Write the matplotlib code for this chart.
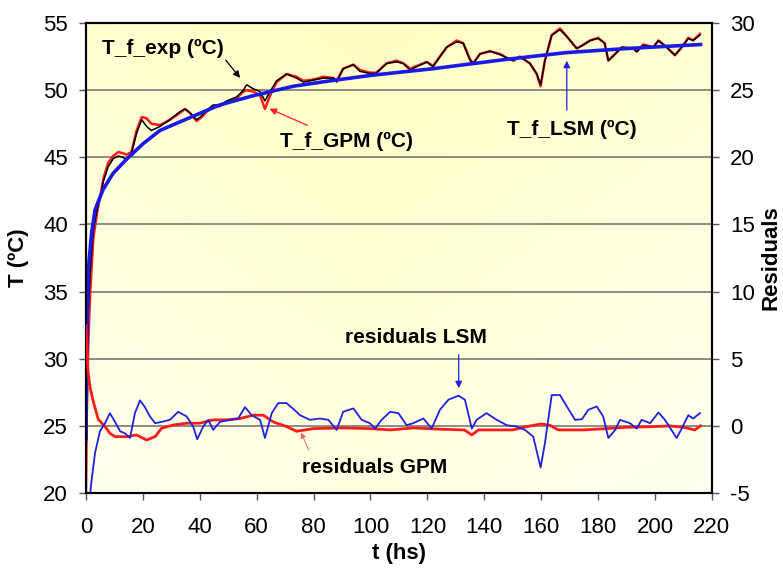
import matplotlib
matplotlib.use("Agg")
import matplotlib.pyplot as plt
import numpy as np
from matplotlib.colors import LinearSegmentedColormap

plt.rcParams['font.family'] = ['Liberation Sans', 'DejaVu Sans']
plt.rcParams['axes.unicode_minus'] = False

# ---------------- data ----------------
t_exp = [0, 0.3, 0.8, 1.5, 2.6, 4.0, 5.0, 6.1, 7.8, 9.6, 11.4, 13.0, 14.3, 16, 17.8, 19.6,
         21.3, 23, 26, 29.5, 33, 34.8, 36.6, 38.9, 40.7, 42.4, 44.7, 47, 49.5, 53, 55.3,
         56.5, 58.8, 61.2, 62.9, 64.7, 67, 70.5, 74, 76.4, 80, 83.5, 87, 88.1, 90.4, 94,
         96.3, 99.8, 102, 105.7, 109.2, 111.5, 113.9, 116.2, 119.8, 122, 124.4, 126.8,
         130.3, 132.6, 135, 136.1, 138.5, 142, 145.5, 148, 150.2, 152.5, 156, 158.4,
         159.8, 161.3, 163.7, 166.6, 169, 172.5, 174.8, 177.2, 180, 182.3, 183.6, 186,
         188.3, 192.4, 193.6, 195.9, 199.4, 201.2, 204.1, 207, 209.4, 211.7, 213.4, 215.8]
T_exp = [21.0, 29.0, 33.5, 36.5, 39.6, 41.2, 42.0, 43.2, 44.3, 44.9, 45.1, 45.0, 44.8, 45.3,
         46.8, 47.8, 47.3, 47.0, 47.3, 47.8, 48.4, 48.6, 48.3, 47.8, 48.1, 48.5, 48.9, 48.9,
         49.2, 49.5, 50.0, 50.4, 50.1, 49.9, 49.2, 49.9, 50.7, 51.2, 50.9, 50.6, 50.75,
         50.9, 50.9, 50.6, 51.6, 51.9, 51.4, 51.25, 51.25, 52.0, 52.1, 52.0, 51.5, 51.75,
         52.1, 51.75, 52.5, 53.2, 53.6, 53.5, 52.2, 52.0, 52.7, 52.9, 52.65, 52.4, 52.2,
         52.5, 52.0, 51.25, 50.4, 52.2, 54.1, 54.5, 54.0, 53.1, 53.35, 53.7, 53.85, 53.5,
         52.2, 52.7, 53.2, 53.1, 52.85, 53.35, 53.2, 53.7, 53.2, 52.6, 53.2, 53.85, 53.7, 54.1]
T_gpm = [20.0, 26.0, 31.0, 35.0, 39.0, 41.0, 42.1, 43.4, 44.6, 45.1, 45.4, 45.3, 45.2, 45.4,
         47.0, 48.0, 47.9, 47.5, 47.4, 47.8, 48.3, 48.6, 48.3, 47.7, 48.0, 48.4, 48.8, 48.8,
         49.1, 49.4, 49.9, 50.0, 49.9, 49.6, 48.6, 49.6, 50.6, 51.2, 51.0, 50.7, 50.8,
         51.0, 50.9, 50.7, 51.6, 51.9, 51.5, 51.3, 51.3, 52.0, 52.2, 52.0, 51.6, 51.8,
         52.1, 51.8, 52.5, 53.2, 53.7, 53.5, 52.3, 52.0, 52.7, 52.9, 52.7, 52.4, 52.2,
         52.5, 52.0, 51.2, 50.3, 52.2, 54.1, 54.6, 54.0, 53.1, 53.4, 53.7, 53.9, 53.5,
         52.2, 52.7, 53.2, 53.1, 52.9, 53.4, 53.2, 53.7, 53.2, 52.6, 53.2, 53.9, 53.7, 54.2]

t_lsm = [0.0, 0.2, 0.8, 2, 3.2, 6, 9.5, 14, 20, 26, 37, 47, 59, 73, 86, 100, 122, 148,
         169, 190, 216]
T_lsm = [24.0, 30.6, 36.6, 39.4, 41.1, 42.6, 43.8, 44.8, 46.0, 47.0, 48.0, 48.9, 49.6,
         50.3, 50.7, 51.1, 51.6, 52.3, 52.8, 53.1, 53.4]

t_res_lsm = [0.3, 1.4, 2, 3.2, 4.9, 6.7, 8.4, 10.2, 12, 13.7, 15.5, 17.2, 19, 20.7, 22.5,
             24.3, 26.6, 29.5, 32.4, 35.4, 37.7, 39.1, 41.2, 43, 44.7, 47.1, 50.6, 53.5,
             55.9, 58.2, 61.2, 62.9, 65.3, 67.6, 70.5, 74, 75.2, 78.7, 82.2, 85.2, 88.1,
             90.4, 94, 96.9, 99.8, 101.6, 103.9, 106.9, 109.8, 112.7, 115, 118.6, 121.5,
             124.4, 127.4, 130.9, 133.2, 135.6, 137.3, 140.8, 144.4, 147.9, 151.4, 154.3,
             157.2, 159.8, 161.3, 163.7, 166.6, 169, 171.9, 174.3, 176.6, 179.5, 181.8,
             183.6, 186, 187.7, 191.2, 193.6, 195.3, 198.3, 201.2, 203.5, 207.6, 209.4,
             211.7, 213.4, 215.8]
res_lsm = [-12, -5.2, -4.0, -2.0, -0.4, 0.2, 0.95, 0.3, -0.4, -0.55, -0.9, 0.95, 1.9, 1.4,
           0.7, 0.2, 0.3, 0.45, 1.05, 0.7, -0.05, -1.0, -0.05, 0.45, -0.3, 0.3, 0.45, 0.55,
           1.4, 0.8, 0.45, -0.9, 0.95, 1.7, 1.7, 1.05, 0.8, 0.45, 0.55, 0.45, -0.3, 1.05,
           1.3, 0.45, 0.2, -0.2, 0.45, 1.05, 0.95, 0.05, 0.2, 0.55, -0.2, 1.2, 1.95, 2.25,
           1.95, -0.2, 0.45, 0.95, 0.45, 0.05, -0.05, -0.3, -0.8, -3.1, -1.3, 2.3, 2.3, 1.45,
           0.45, 0.5, 1.2, 1.45, 0.7, -0.9, -0.3, 0.45, 0.2, -0.2, 0.45, 0.2, 1.0, 0.45,
           -0.9, -0.2, 0.8, 0.55, 0.95]

t_res_gpm = [0, 0.3, 0.8, 1.5, 2.6, 4.3, 6.7, 8.4, 10.2, 14.3, 17.8, 21.3, 24.3, 26.6, 30.7,
             35.4, 40, 44.7, 49.5, 54.1, 58.8, 62.3, 65.8, 70.5, 74, 80, 90, 100, 107, 115,
             125, 133, 135.6, 138, 145, 150, 155, 160, 163, 166, 175, 183, 190, 200, 205,
             210, 214, 216]
res_gpm = [7.5, 5.5, 3.9, 2.8, 1.8, 0.5, -0.05, -0.55, -0.8, -0.8, -0.67, -1.05, -0.8, -0.17,
           0.07, 0.2, 0.2, 0.45, 0.45, 0.55, 0.8, 0.8, 0.3, -0.05, -0.4, -0.2, -0.15, -0.2,
           -0.3, -0.15, -0.25, -0.3, -0.67, -0.3, -0.3, -0.3, -0.05, 0.15, 0.05, -0.3, -0.3,
           -0.2, -0.1, -0.05, 0.0, -0.1, -0.3, 0.0]

x_ticks = [0, 20, 40, 60, 80, 100, 120, 140, 160, 180, 200, 220]
y_ticks = [20, 25, 30, 35, 40, 45, 50, 55]
y2_ticks = [-5, 0, 5, 10, 15, 20, 25, 30]

# ---------------- figure ----------------
fig = plt.figure(figsize=(7.83, 5.70), dpi=100)
ax = fig.add_axes([0.1098, 0.135, 0.7994, 0.8246])
ax.set_xlim(0, 220)
ax.set_ylim(20, 55)

# yellow gradient background
ny, nx = 100, 100
yy, xx = np.mgrid[0:1:ny * 1j, 0:1:nx * 1j]
val = np.clip(0.6 * yy + 0.35 * (1 - np.abs(xx - 0.45) * 1.6), 0, 1)
cmap = LinearSegmentedColormap.from_list('bg', ['#fffff4', '#ffffc0'])
ax.imshow(val, extent=[0, 220, 20, 55], origin='lower', aspect='auto', cmap=cmap,
          vmin=0, vmax=1, zorder=0, interpolation='bicubic')

for yv in y_ticks[1:-1]:
    ax.axhline(yv, color='#6e6e6e', lw=1.1, zorder=1)

ax.plot(t_exp, T_gpm, color='#ff1a1a', lw=1.8, zorder=3)
ax.plot(t_exp, T_exp, color='black', lw=1.1, zorder=4)
ax.plot(t_lsm, T_lsm, color='#1a1ae6', lw=2.6, zorder=5)

ax2 = ax.twinx()
ax2.set_ylim(-5, 30)
ax2.plot(t_res_gpm, res_gpm, color='#ff1a1a', lw=2.0, zorder=3)
ax2.plot(t_res_lsm, res_lsm, color='#2020e0', lw=1.3, zorder=4)

ax.set_xticks(x_ticks)
ax.set_yticks(y_ticks)
ax2.set_yticks(y2_ticks)
for a in (ax, ax2):
    a.tick_params(labelsize=16, length=5, width=1, color='#555555', direction='out')
    for s in a.spines.values():
        s.set_linewidth(1.5)
        s.set_color('black')
ax.tick_params(axis='x', pad=12)
ax.tick_params(axis='y', pad=8)
ax2.tick_params(axis='y', pad=8)
for lbl in ax.get_xticklabels() + ax.get_yticklabels() + ax2.get_yticklabels():
    lbl.set_fontstretch('condensed')

ax.set_xlabel('t (hs)', fontsize=16, fontweight='bold', labelpad=4)
ax.set_ylabel('T (ºC)', fontsize=16, fontweight='bold', labelpad=10)
ax2.set_ylabel('Residuals', fontsize=16, fontweight='bold', labelpad=4)

# annotations
tf = dict(fontsize=15, fontweight='bold', ha='center', va='center', zorder=10)
ax.text(27.1, 53.1, 'T_f_exp (ºC)', **tf)
ax.annotate('', xy=(54.8, 50.75), xytext=(48.5, 52.4),
            arrowprops=dict(arrowstyle='-|>', color='black', lw=0.9, mutation_scale=10))
ax.text(91.7, 46.2, 'T_f_GPM (ºC)', **tf)
ax.annotate('', xy=(63.6, 48.7), xytext=(78.7, 47.3),
            arrowprops=dict(arrowstyle='-|>', color='#ff2020', lw=0.9, mutation_scale=10))
ax.text(170.8, 47.1, 'T_f_LSM (ºC)', **tf)
ax.annotate('', xy=(169, 52.4), xytext=(169, 48.3),
            arrowprops=dict(arrowstyle='-|>', color='#2020e0', lw=0.9, mutation_scale=10))
ax.text(116, 31.6, 'residuals LSM', **tf)
ax.annotate('', xy=(131, 27.6), xytext=(131, 30.5),
            arrowprops=dict(arrowstyle='-|>', color='#2020e0', lw=0.9, mutation_scale=10))
ax.text(101.6, 21.9, 'residuals GPM', **tf)
ax.annotate('', xy=(75.2, 24.7), xytext=(78.7, 23.0),
            arrowprops=dict(arrowstyle='-|>', color='#ff6060', lw=0.7, mutation_scale=8))

fig.savefig('out.png', dpi=100)
